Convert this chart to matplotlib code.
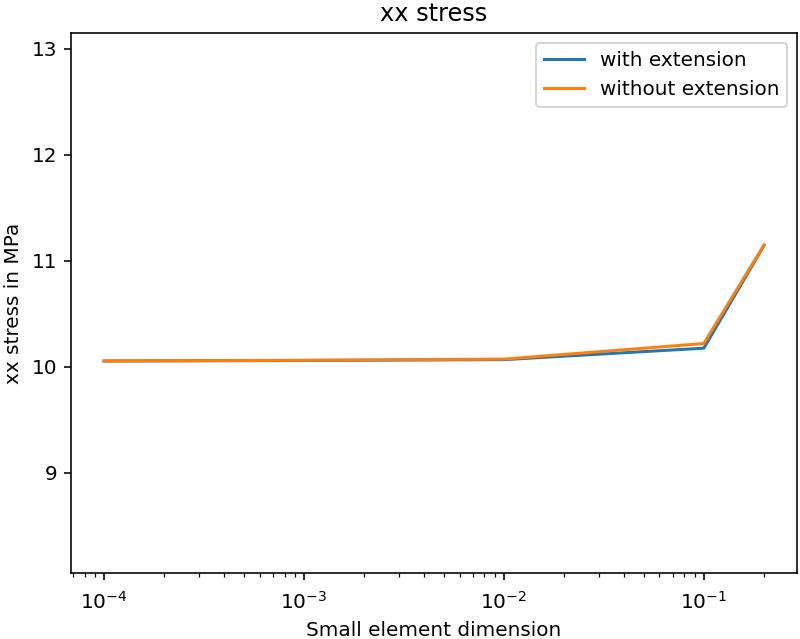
import matplotlib
matplotlib.use("Agg")
import matplotlib.pyplot as plt

dims = [1e-4, 1e-3, 1e-2, 1e-1, 2e-1]
stress_with = [10.055, 10.060, 10.068, 10.176, 11.145]
stress_without = [10.055, 10.062, 10.073, 10.220, 11.150]

fig = plt.figure(figsize=(800 / 144, 639 / 144), dpi=144)
ax = fig.add_axes([0.08875, 0.1033, 0.9075, 0.8451])

ax.plot(dims, stress_with, label="with extension")
ax.plot(dims, stress_without, label="without extension")
ax.set_xscale("log")

lo = min(stress_with + stress_without)
hi = max(stress_with + stress_without)
ax.set_ylim(lo - 2, hi + 2)

ax.tick_params(axis="x", which="major", pad=5.5)
ax.set_xlabel("Small element dimension")
ax.set_ylabel("xx stress in MPa")
ax.set_title("xx stress")
ax.legend()

fig.savefig("out.png", dpi=144)
